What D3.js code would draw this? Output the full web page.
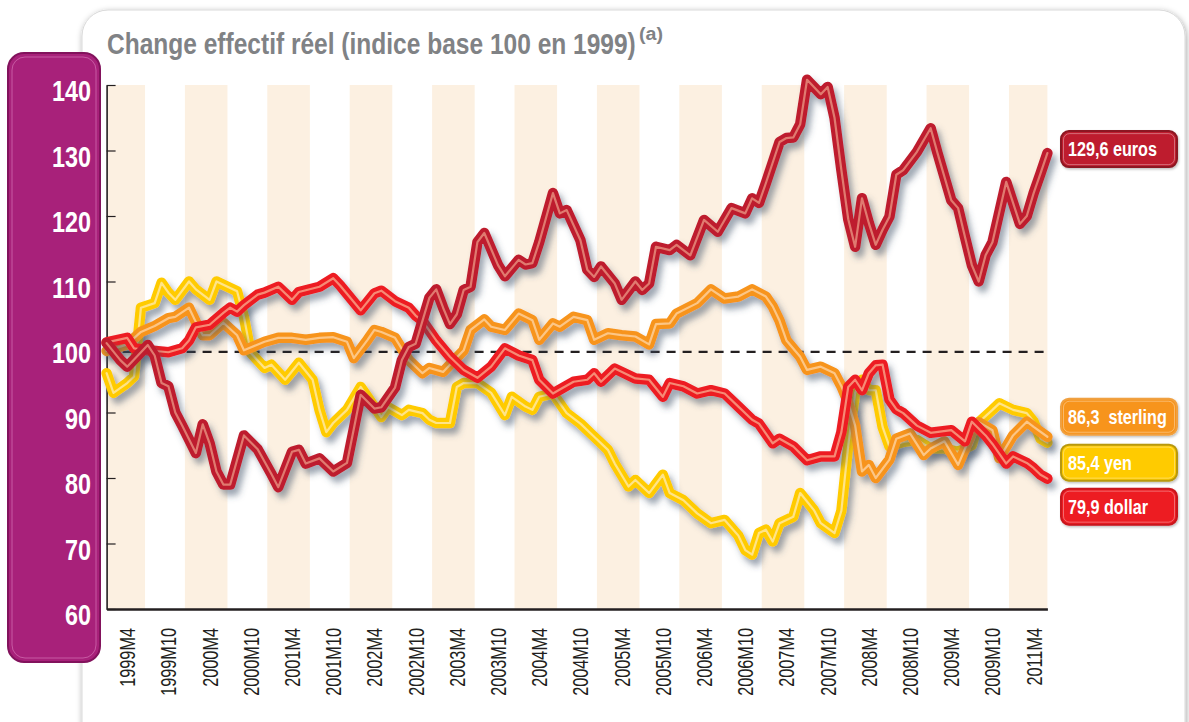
<!DOCTYPE html>
<html><head><meta charset="utf-8">
<script src="https://cdn.jsdelivr.net/npm/d3@7"></script>
<style>
html,body{margin:0;padding:0;background:#fff;}
svg{display:block;}
text{font-family:"Liberation Sans",Arial,sans-serif;}
</style></head><body>
<svg id="chart" width="1189" height="722"></svg>
<script>
// ---------- data ----------
const titleText = "Change effectif réel (indice base 100 en 1999)";
const titleNote = "(a)";
const yTicks = [60, 70, 80, 90, 100, 110, 120, 130, 140];
// month index 0 = 1999M1; labels every 6 months (as printed on the original)
const xTickLabels = ["1999M4","1999M10","2000M4","2000M10","2001M4","2001M10","2002M4","2002M10",
  "2003M4","2003M10","2004M4","2004M10","2005M4","2005M10","2006M4","2006M10","2007M4","2007M10",
  "2008M4","2008M10","2009M4","2009M10","2011M4"];
const baseLevel = 99.25;
const lastMonth = 137;

const euros = [[0,100.6],[2,98],[3,97],[6,100.3],[7,98.7],[8,94.5],[9,94],[10,90],[11,88],[13,83.8],[14,88.2],[15,85.3],[16,81],[17,79],[18,79],[20,86.5],[22,84.4],[24,80.6],[25,78.6],[27,84],[28,84.3],[29,82.2],[31,83],[33,81],[35,82.3],[37,92.7],[39,90.6],[40,90.8],[42,93.8],[43,98],[44,100],[45,100.5],[47,107.5],[48,108.8],[49,106],[50,103.5],[51,105],[52,108.7],[53,109.2],[54,116],[55,117.4],[57,112.5],[58,110.8],[60,113.3],[61,112.6],[62,112.8],[63,116],[65,123.5],[66,120.4],[67,120.9],[69,116.3],[70,111.8],[71,110.7],[72,112.3],[74,109.7],[75,107.2],[77,110],[78,108.7],[79,109.7],[80,115.3],[82,114.8],[83,115.6],[85,114],[87,119.4],[89,117.6],[91,121.2],[93,120.4],[94,122.7],[95,122],[96,125],[98,131.3],[99,131.9],[100,132],[101,134],[102,140.8],[104,138.6],[105,139.7],[106,135],[107,127],[108,119.5],[109,115.3],[110,122.7],[111,118.9],[112,115.6],[113,117.9],[114,119.9],[115,126.3],[116,127],[118,129.8],[120,133.4],[121,129.6],[123,122.4],[124,121.2],[125,116.8],[126,112.5],[127,110],[128,114],[129,116],[131,125.2],[133,118.8],[134,120],[135,123.5],[136,126.5],[137,129.6]];

const dollar = [[0,100.7],[3,101.4],[4,99.8],[6,99.5],[9,99.2],[11,99.8],[12,101],[13,103],[15,103.4],[17,105.2],[18,106],[19,105.4],[20,106.4],[22,108],[23,108.3],[25,109.2],[27,107.2],[28,108.4],[31,109.2],[33,110.5],[34,109.4],[37,105.6],[39,108.2],[40,108.6],[42,107],[44,106],[45,104.8],[46,104],[48,101],[50,98.5],[52,96.5],[54,95.3],[56,97],[58,99.8],[60,98.7],[62,98],[63,95],[65,92.9],[66,93.5],[68,94.7],[70,95],[71,96],[72,94.7],[74,96.7],[77,95.2],[79,95],[81,92.4],[82,94.5],[84,94],[86,92.9],[88,93.4],[90,92.9],[92,90.9],[94,88.9],[95,88.3],[97,85.3],[98,86],[100,84.8],[102,82.7],[104,83.3],[106,83.3],[107,87],[108,93.9],[109,95],[110,93.4],[111,96],[112,97.2],[113,97.3],[114,92],[115,90.5],[116,89.9],[118,88],[120,86.9],[123,87.3],[125,85.6],[126,88.6],[128,86.5],[129,85.2],[131,82.2],[132,83.3],[134,82.3],[135,81.5],[136,80.5],[137,79.9]];

const sterling = [[0,99.4],[3,100.4],[5,102.3],[7,103.2],[9,104.4],[10,104.6],[12,106],[13,103.8],[14,101.8],[15,101.8],[17,103.7],[19,101.8],[20,99.5],[23,100.8],[25,101.4],[27,101.4],[29,101.1],[31,101.4],[33,101.5],[35,100.8],[36,98.3],[38,101.1],[39,102.6],[40,102.3],[42,101.4],[44,98],[46,96],[47,96.8],[49,96.2],[52,99.5],[53,102.6],[55,104.2],[56,103.1],[58,102.6],[60,105.1],[62,104.1],[63,101.1],[65,103.6],[66,103.1],[68,104.6],[70,104.1],[71,101.1],[73,102.1],[75,101.8],[77,101.6],[79,100.4],[80,103.5],[82,103.6],[83,105.1],[86,106.7],[88,108.8],[90,107.4],[92,107.7],[94,108.8],[96,107.7],[97,106.2],[98,104],[99,101],[101,98.5],[102,96.5],[104,97],[106,96],[107,94],[108,91.5],[109,88],[110,81],[111,82],[112,80],[114,82.8],[115,86],[117,86.8],[119,83.5],[120,84.5],[122,85.6],[124,82],[126,86.9],[127,88.5],[129,87.3],[130,83],[132,86.5],[134,88.6],[135,87.8],[137,86.3]];

const yen = [[0,96],[1,93],[3,94.5],[4,95.5],[5,106],[7,106.7],[8,109.8],[9,108.3],[10,107.2],[12,110],[13,108.8],[15,107.2],[16,110],[18,109],[19,108.5],[20,104.6],[21,99.1],[23,96.8],[24,97.3],[26,95],[28,97.6],[30,95],[31,90.4],[32,87],[33,88.4],[35,90.4],[37,93.9],[38,92.4],[40,89.3],[41,90.8],[43,89.6],[44,90.4],[46,89.9],[47,88.9],[48,88.4],[50,88.4],[51,93.9],[52,94.5],[54,94.5],[56,93],[58,89.6],[59,92.4],[61,90.9],[62,90.4],[63,92.4],[65,92.9],[67,89.9],[69,88.3],[71,86.3],[73,84.3],[74,82.2],[76,78.7],[77,79.7],[79,77.7],[81,80.5],[82,77.7],[84,76.6],[86,74.6],[88,73.1],[90,73.6],[92,71.2],[93,69],[94,68.3],[95,71.6],[96,72.1],[97,70.3],[98,73.1],[100,74.1],[101,77.7],[103,75.1],[104,73.1],[106,71.6],[107,75],[108,85],[109,93],[110,95],[111,93.4],[112,93.4],[113,87.8],[114,84.8],[116,85.5],[118,85.8],[120,84.5],[122,84.5],[124,84],[126,85],[127,88.5],[129,90.4],[130,91.4],[132,90.4],[134,89.9],[135,88.6],[136,86],[137,85.4]];

const seriesNames = ["yen", "sterling", "dollar", "euros"];
const seriesData = [yen, sterling, dollar, euros];
const endValues = [85.4, 86.3, 79.9, 129.6];
const endLabels = ["85,4 yen", "86,3  sterling", "79,9 dollar", "129,6 euros"];

// ---------- styles ----------
const colors = {euros:"#BE1E2D", dollar:"#ED1C24", sterling:"#F7941D", yen:"#FFCB05"};
const highlights = {euros:"#E07A70", dollar:"#F68A74", sterling:"#FCC686", yen:"#FFE488"};
const boxStroke = {euros:"#8C1520", dollar:"#C8151D", sterling:"#F0A040", yen:"#B8980A"};
const labelOffset = {euros:-22, sterling:-38, yen:2, dollar:10};

const plot = {left:106.6, right:1047.4, top:85, bottom:609};

const svg = d3.select("#chart");
const defs = svg.append("defs");
const fc = defs.append("filter").attr("id","cardShadow").attr("x","-5%").attr("y","-5%").attr("width","110%").attr("height","110%");
fc.append("feDropShadow").attr("dx",1).attr("dy",2).attr("stdDeviation",3).attr("flood-color","#000").attr("flood-opacity",0.35);
const fl = defs.append("filter").attr("id","lineShadow").attr("x","-10%").attr("y","-20%").attr("width","120%").attr("height","140%");
fl.append("feDropShadow").attr("dx",4).attr("dy",6).attr("stdDeviation",3).attr("flood-color","#3d4d66").attr("flood-opacity",0.5);
const fb = defs.append("filter").attr("id","boxShadow").attr("x","-10%").attr("y","-20%").attr("width","120%").attr("height","150%");
fb.append("feDropShadow").attr("dx",1).attr("dy",1.5).attr("stdDeviation",1).attr("flood-color","#000").attr("flood-opacity",0.25);

// card
svg.append("rect").attr("x",82).attr("y",10).attr("width",1103).attr("height",770).attr("rx",26)
  .attr("fill","#fff").attr("stroke","#d9d9d9").attr("filter","url(#cardShadow)");

// scales
const x = d3.scaleLinear().domain([0, lastMonth]).range([plot.left, plot.right]);
const y = d3.scaleLinear().domain([60, 140]).range([plot.bottom, plot.top]);

// stripes (first half of each year)
const years = d3.range(0, 12);
const sx0 = k => Math.max(x(12*k - 0.6), x(0) + 0.5);
const sx1 = k => Math.min(x(12*k + 5.6), x(lastMonth));
svg.append("g").selectAll("rect").data(years).join("rect")
  .attr("x", sx0).attr("width", k => sx1(k) - sx0(k))
  .attr("y", y(140)).attr("height", y(60) - y(140))
  .attr("fill", "#FCF0E1");

// purple panel
svg.append("rect").attr("x",8).attr("y",53).attr("width",92).attr("height",609).attr("rx",16)
  .attr("fill","#A8217A").attr("stroke","#82125C").attr("stroke-width",2);
svg.append("rect").attr("x",12).attr("y",57).attr("width",84).attr("height",601).attr("rx",13)
  .attr("fill","none").attr("stroke","#C75AA3").attr("stroke-width",1);

// y labels
svg.append("g").selectAll("text").data(yTicks).join("text")
  .attr("x", 91).attr("y", d => y(d) + 16)
  .attr("text-anchor","end").attr("fill","#fff").attr("font-weight","bold")
  .attr("font-size", 29)
  .attr("textLength", d => String(d).length * 13).attr("lengthAdjust","spacingAndGlyphs")
  .text(d => d);

// y axis (ticks inside)
const yAxis = d3.axisLeft(y).tickValues(yTicks).tickSizeInner(-9).tickSizeOuter(0).tickFormat("");
const gy = svg.append("g").attr("transform", `translate(${plot.left},0)`).call(yAxis);
gy.select(".domain").attr("stroke","#231F20").attr("stroke-width",1.6);
gy.selectAll(".tick line").attr("stroke","#231F20").attr("stroke-width",1.2);

// x axis line
const xAxis = d3.axisBottom(x).tickValues([]).tickSizeOuter(0);
const gx = svg.append("g").attr("transform", `translate(0,${plot.bottom})`).call(xAxis);
gx.select(".domain").attr("stroke","#231F20").attr("stroke-width",2.4);

// x labels
svg.append("g").selectAll("text").data(xTickLabels).join("text")
  .attr("transform", (d,i) => `translate(${x(3 + 6*i) + 8},628) rotate(-90) scale(0.74,1)`)
  .attr("text-anchor","end").attr("fill","#231F20").attr("font-size",22)
  .text(d => d);

// base dashed line
svg.append("line").attr("x1", x(0)).attr("x2", x(lastMonth))
  .attr("y1", y(baseLevel)).attr("y2", y(baseLevel))
  .attr("stroke","#231F20").attr("stroke-width",2.2).attr("stroke-dasharray","9,7");

// lines
const line = d3.line().x(d => x(d[0])).y(d => y(d[1]));
seriesNames.forEach((name, i) => {
  const g = svg.append("g").attr("filter","url(#lineShadow)");
  g.append("path").attr("d", line(seriesData[i])).attr("fill","none")
    .attr("stroke", colors[name]).attr("stroke-width",10.5)
    .attr("stroke-linejoin","round").attr("stroke-linecap","round");
  g.append("path").attr("d", line(seriesData[i])).attr("fill","none")
    .attr("stroke", highlights[name]).attr("stroke-width",2.2)
    .attr("stroke-linejoin","round").attr("stroke-linecap","round");
});

// end labels
seriesNames.forEach((name, i) => {
  const top = y(endValues[i]) + labelOffset[name];
  const g = svg.append("g").attr("transform", `translate(1061,${top})`);
  g.append("rect").attr("width",116).attr("height",36).attr("rx",8)
    .attr("fill", colors[name]).attr("stroke", boxStroke[name]).attr("stroke-width",2)
    .attr("filter","url(#boxShadow)");
  g.append("rect").attr("x",2.5).attr("y",2.5).attr("width",111).attr("height",31).attr("rx",6)
    .attr("fill","none").attr("stroke","rgba(255,255,255,0.35)").attr("stroke-width",1);
  g.append("text").attr("transform","translate(7,25) scale(0.77,1)")
    .attr("fill","#fff").attr("font-weight","bold").attr("font-size",21)
    .style("white-space","pre").text(endLabels[i]);
});

// title (condensed by horizontal scaling so its box matches what is drawn)
const titleWidth = 529;
const tMain = svg.append("text").attr("fill","#808285").attr("font-weight","bold")
  .attr("font-size",30).text(titleText);
const sMain = titleWidth / tMain.node().getComputedTextLength();
tMain.attr("transform", `translate(107,54) scale(${sMain},1)`);
const tNote = svg.append("text").attr("fill","#808285").attr("font-weight","bold")
  .attr("font-size",18).text(titleNote);
const sNote = 24 / tNote.node().getComputedTextLength();
tNote.attr("transform", `translate(${107 + titleWidth + 3},40) scale(${sNote},1)`);
</script>
</body></html>
